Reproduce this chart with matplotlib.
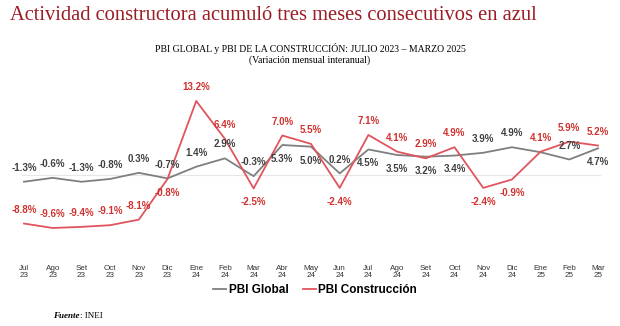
import matplotlib.pyplot as plt
from matplotlib.lines import Line2D

meses = ['Jul\n23', 'Ago\n23', 'Set\n23', 'Oct\n23', 'Nov\n23', 'Dic\n23', 'Ene\n24', 'Feb\n24',
         'Mar\n24', 'Abr\n24', 'May\n24', 'Jun\n24', 'Jul\n24', 'Ago\n24', 'Set\n24', 'Oct\n24',
         'Nov\n24', 'Dic\n24', 'Ene\n25', 'Feb\n25', 'Mar\n25']
pbi_global = [-1.3, -0.6, -1.3, -0.8, 0.3, -0.7, 1.4, 2.9, -0.3, 5.3, 5.0, 0.2,
              4.5, 3.5, 3.2, 3.4, 3.9, 4.9, 4.0, 2.7, 4.7]
pbi_constr = [-8.8, -9.6, -9.4, -9.1, -8.1, -0.8, 13.2, 6.4, -2.5, 7.0, 5.5, -2.4,
              7.1, 4.1, 2.9, 4.9, -2.4, -0.9, 4.1, 5.9, 5.2]
# posicion de etiquetas: 1 arriba, -1 abajo, 0 sin etiqueta
pos_global = [1, 1, 1, 1, 1, 1, 1, 1, 1, -1, -1, 1, -1, -1, -1, -1, 1, 1, 0, 1, -1]
pos_constr = [1, 1, 1, 1, 1, -1, 1, 1, -1, 1, 1, -1, 1, 1, 1, 1, -1, -1, 1, 1, 1]

c_global = '#7f7f7f'
c_constr = '#e0555d'
c_glab = '#404040'
c_clab = '#d0312d'

fig = plt.figure(figsize=(6.2, 3.26), dpi=100)
fig.patch.set_facecolor('white')

fig.text(0.016, 0.952, 'Actividad constructora acumuló tres meses consecutivos en azul',
         family='Liberation Serif', fontsize=14.8, color='#9b1c24', va='center')
fig.text(0.5, 0.852, 'PBI GLOBAL y PBI DE LA CONSTRUCCIÓN: JULIO 2023 – MARZO 2025',
         family='Liberation Serif', fontsize=7, ha='center', va='center')
fig.text(0.5, 0.815, '(Variación mensual interanual)',
         family='Liberation Serif', fontsize=7, ha='center', va='center')

ax = fig.add_axes([9.65 / 620, 1 - 255 / 326, 602.7 / 620, 170 / 326])
x = list(range(len(meses)))
ax.axhline(0, color='#e6e6e6', lw=0.8, xmin=0.02, xmax=0.98)
ax.plot(x, pbi_global, color=c_global, lw=1.3)
ax.plot(x, pbi_constr, color=c_constr, lw=1.3)

for i in x:
    if pos_global[i]:
        ax.annotate(f'{pbi_global[i]:.1f}%', (i, pbi_global[i]), xytext=(0, 10 * pos_global[i]),
                    textcoords='offset points', ha='center', va='center', fontsize=7,
                    fontweight='bold', color=c_glab, family='Liberation Sans')
    if pos_constr[i]:
        ax.annotate(f'{pbi_constr[i]:.1f}%', (i, pbi_constr[i]), xytext=(0, 10 * pos_constr[i]),
                    textcoords='offset points', ha='center', va='center', fontsize=7,
                    fontweight='bold', color=c_clab, family='Liberation Sans')

ax.set_xlim(-0.5, 20.5)
ax.set_ylim(-14.45, 16.07)
ax.set_xticks(x)
ax.set_xticklabels(meses, fontsize=5.8, color='#333333', family='Liberation Sans',
                   linespacing=1.05)
ax.tick_params(axis='x', length=0, pad=7)
ax.set_yticks([])
for s in ax.spines.values():
    s.set_visible(False)

handles = [Line2D([], [], color=c_global, lw=1.3), Line2D([], [], color=c_constr, lw=1.3)]
fig.legend(handles, ['PBI Global', 'PBI Construcción'], loc='center', ncol=2,
           bbox_to_anchor=(0.508, 1 - 290 / 326), frameon=False, handlelength=1.1,
           handletextpad=0.2, columnspacing=1.2,
           prop={'family': 'Liberation Sans', 'weight': 'bold', 'size': 8.5})

t = fig.text(0.086, 1 - 316 / 326, 'Fuente', family='Liberation Serif', fontsize=6.5,
             fontweight='bold', style='italic', va='center')
fig.add_artist(plt.Annotation(': INEI', xy=(1, 0.5), xycoords=t, va='center', ha='left',
                              family='Liberation Serif', fontsize=6.5))

fig.savefig('out.png', dpi=100)
